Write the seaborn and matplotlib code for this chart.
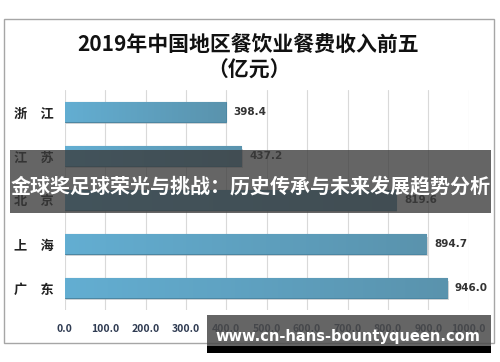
import matplotlib
matplotlib.use("Agg")
import matplotlib.pyplot as plt
from matplotlib.patches import Rectangle
import numpy as np
import pandas as pd
import seaborn as sns

provinces = ["浙　江", "江　苏", "北　京", "上　海", "广　东"]
revenue = [398.4, 437.2, 819.6, 894.7, 946.0]
xticks = [0, 100, 200, 300, 400, 500, 600, 700, 800, 900, 1000]
title = "2019年中国地区餐饮业餐费收入前五\n（亿元）"
banner = "金球奖足球荣光与挑战：历史传承与未来发展趋势分析"
watermark = "www.cn-hans-bountyqueen.com"

sns.set_theme(style="white")
plt.rcParams['font.family'] = ['Noto Sans CJK SC', 'DejaVu Sans']

df = pd.DataFrame({"province": provinces, "revenue": revenue})

W, H = 500, 362
fig = plt.figure(figsize=(5, 3.62), dpi=100)
ax = fig.add_axes([64.7 / W, 1 - 310 / H, (468.7 - 64.7) / W, 220 / H])

sns.barplot(data=df, x="revenue", y="province", orient="h", color="#5FA6C8",
            width=0.44, ax=ax, edgecolor="#4C87A3", linewidth=0.8, zorder=3)

# gradient fill on bars
grad = np.linspace(0, 1, 256).reshape(1, -1)
cmap = matplotlib.colors.LinearSegmentedColormap.from_list("g", ["#63AED2", "#5A93AD"])
for p in ax.patches:
    x0, y0 = p.get_x(), p.get_y()
    w, h = p.get_width(), p.get_height()
    # shadow
    ax.add_patch(Rectangle((x0 + 4, y0 + 0.05), w, h, color="#B0B0B0", alpha=0.5,
                           zorder=2, linewidth=0))
    im = ax.imshow(grad, extent=[x0, x0 + w, y0 + h, y0], aspect="auto",
                   cmap=cmap, zorder=3.5)
    im.set_clip_path(p)

ax.set_xlim(0, 1000)
ax.set_ylim(4.5, -0.5)
ax.set_xticks(xticks)
ax.set_xticklabels([f"{v:.1f}" for v in xticks], fontsize=7.5, fontweight="bold",
                   color="#2F3B52")
ax.tick_params(axis="x", length=0, pad=10)
ax.tick_params(axis="y", length=0, pad=8)
for lab in ax.get_yticklabels():
    lab.set_fontsize(9.5)
    lab.set_fontweight("bold")
    lab.set_color("#222222")
ax.set_xlabel("")
ax.set_ylabel("")
ax.grid(axis="x", color="#D9D9D9", linewidth=0.8, zorder=0)
for s in ax.spines.values():
    s.set_visible(False)

for i, v in enumerate(revenue):
    ax.text(v + 20, i, f"{v:.1f}", va="center", ha="left", fontsize=7.5,
            color="#333333", fontweight="bold", family=["DejaVu Sans"])

# outer chart border
fig.patches.append(Rectangle((4 / W, 1 - 343 / H), 490 / W, 324 / H,
                             transform=fig.transFigure, fill=False,
                             edgecolor="#A6A6A6", linewidth=1, zorder=0))

fig.text(0.497, 1 - 58 / H, title, ha="center", va="center", fontsize=15,
         fontweight="bold", color="#111111", linespacing=1.2)

# banner overlay
fig.patches.append(Rectangle((10 / W, 1 - 212.7 / H), 481 / W, 62.7 / H,
                             transform=fig.transFigure, facecolor="#3A3A3A",
                             alpha=0.78, edgecolor="none", zorder=10))
fig.text(250.5 / W, 1 - 186 / H, banner, ha="center", va="center", fontsize=14.4,
         fontweight="bold", color="white", zorder=11)

# watermark overlay
fig.patches.append(Rectangle((207 / W, 1 - 346 / H), 284 / W, 31 / H,
                             transform=fig.transFigure, facecolor="#4A4A4A",
                             alpha=0.85, edgecolor="none", zorder=10))
fig.patches.append(Rectangle((207 / W, 1 - 353 / H), 284 / W, 7 / H,
                             transform=fig.transFigure, facecolor="black",
                             edgecolor="none", zorder=10))
fig.text(348 / W, 1 - 336 / H, watermark, ha="center", va="center", fontsize=10.5,
         fontweight="bold", color="white", family=["DejaVu Sans"], zorder=11)

fig.savefig("out.png", dpi=100)
